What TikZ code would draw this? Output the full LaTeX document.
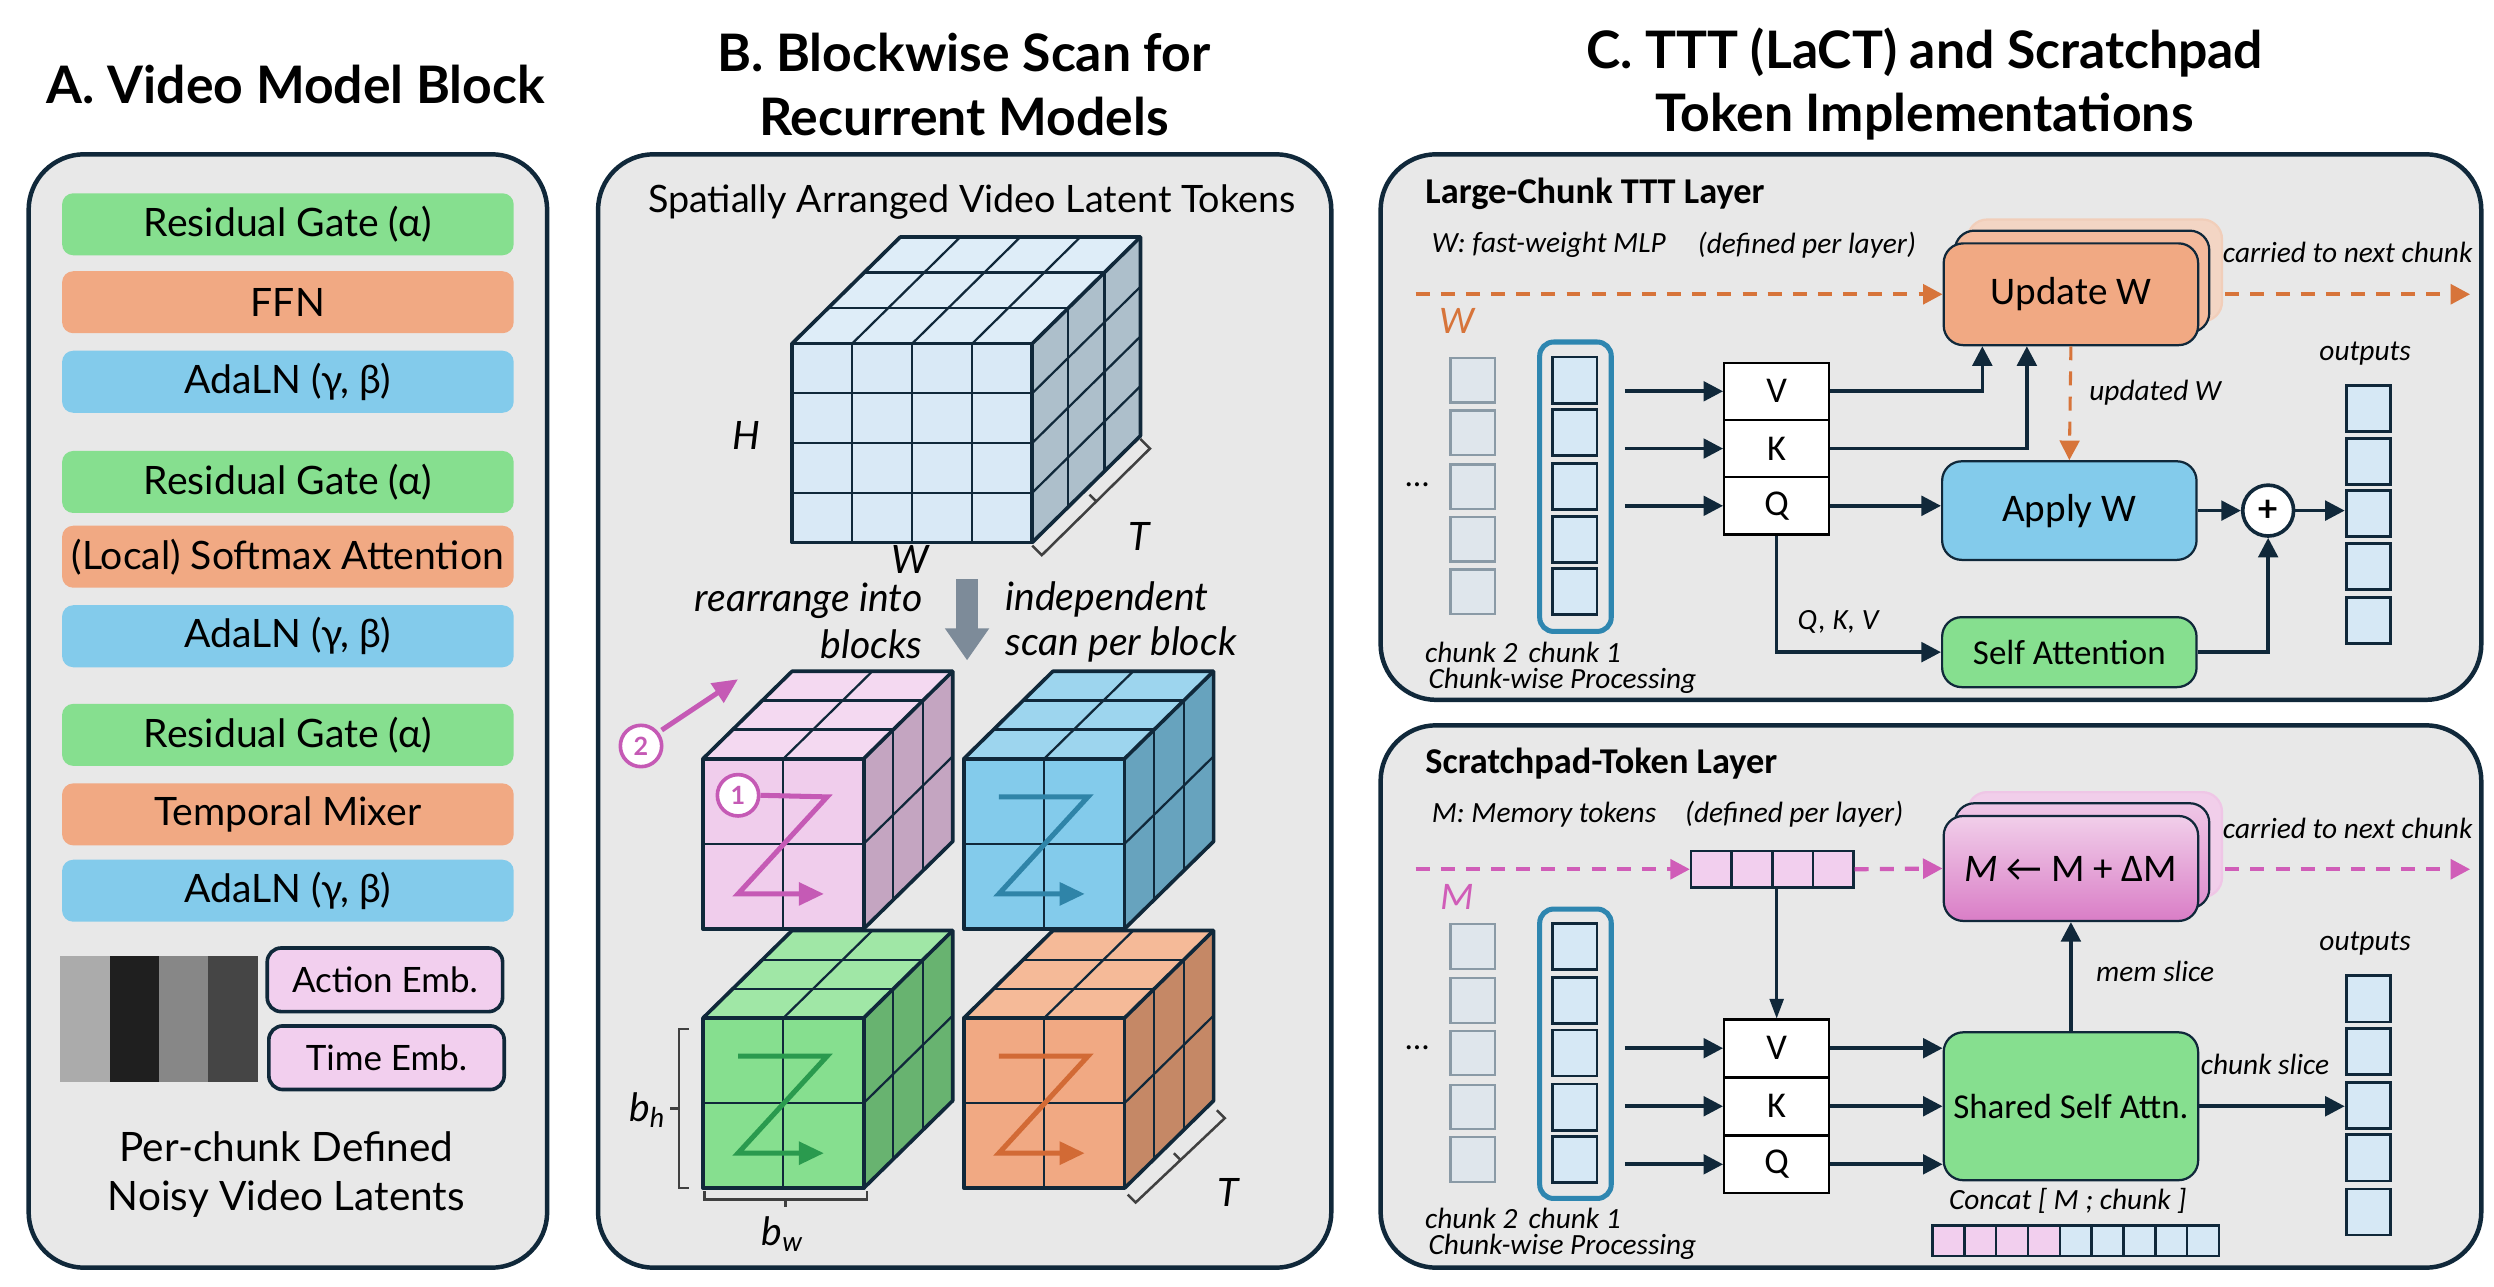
\documentclass[tikz,border=0pt]{standalone}
\usepackage{fontspec}
\setmainfont{Lato}
\newfontfamily\narrowf{Carlito}
\usetikzlibrary{arrows.meta,calc}

\definecolor{navy}{HTML}{10283A}
\definecolor{panelbg}{HTML}{E8E8E8}
\definecolor{gGreen}{HTML}{86DF8F}
\definecolor{gOrange}{HTML}{F1A983}
\definecolor{gBlue}{HTML}{83CBEB}
\definecolor{embpink}{HTML}{F2CFEE}
\definecolor{bigF}{HTML}{D9E9F6}
\definecolor{bigT}{HTML}{DEEDF8}
\definecolor{bigS}{HTML}{ADBFCB}
\definecolor{pinkF}{HTML}{F0CDEC}
\definecolor{pinkT}{HTML}{F4D9F1}
\definecolor{pinkS}{HTML}{C4A5C1}
\definecolor{blueF}{HTML}{83CBEB}
\definecolor{blueT}{HTML}{9DD5EE}
\definecolor{blueS}{HTML}{67A3BE}
\definecolor{greenF}{HTML}{86DF8F}
\definecolor{greenT}{HTML}{A0E7A6}
\definecolor{greenS}{HTML}{68B370}
\definecolor{orangeF}{HTML}{F1A983}
\definecolor{orangeT}{HTML}{F5BA98}
\definecolor{orangeS}{HTML}{C58866}
\definecolor{zpink}{HTML}{C55AB5}
\definecolor{zblue}{HTML}{2F84A8}
\definecolor{zgreen}{HTML}{2A9A4E}
\definecolor{zorange}{HTML}{D26A35}
\definecolor{arrowgray}{HTML}{7D8B99}
\definecolor{wOrange}{HTML}{D7743A}
\definecolor{mPink}{HTML}{D05DB8}
\definecolor{tealb}{HTML}{2E86B0}
\definecolor{cellold}{HTML}{DFE6EC}
\definecolor{celloldb}{HTML}{8A9AA6}
\definecolor{cellnew}{HTML}{D6E8F5}

\tikzset{
    panel/.style={draw=navy, line width=1.6pt, fill=panelbg, rounded corners=0.7cm},
    ttl/.style={font=\fontsize{18.5}{22}\selectfont\bfseries},
    bar/.style={rounded corners=4pt, minimum width=5.68cm, minimum height=0.78cm, font=\fontsize{14}{16}\selectfont},
    emb/.style={draw=navy, line width=1.3pt, fill=embpink, rounded corners=5pt, minimum width=2.96cm, minimum height=0.8cm, font=\fontsize{12.5}{14}\selectfont},
    cubeline/.style={draw=navy, line width=0.8pt},
    cubeedge/.style={draw=navy, line width=1.3pt, line join=round},
    zline/.style={line width=1.8pt, -{Triangle[length=9pt,width=8pt]}},
    numc/.style={circle, draw=zpink, line width=1.3pt, fill=white, minimum size=0.52cm, inner sep=0pt, text=zpink, font=\fontsize{9}{10}\selectfont\bfseries},
    brk/.style={draw=black!75, line width=0.9pt},
    lbl/.style={font=\fontsize{14}{15}\selectfont\itshape},
    sub/.style={font=\narrowf\fontsize{13}{15}\selectfont\bfseries},
    note/.style={font=\narrowf\fontsize{10.5}{12}\selectfont\itshape},
    qkv/.style={draw=black, line width=0.8pt, fill=white, minimum width=1.32cm, minimum height=0.72cm, font=\narrowf\fontsize{13}{15}\selectfont},
    op/.style={draw=navy, line width=0.8pt, rounded corners=7pt, minimum width=3.2cm, font=\narrowf\fontsize{14}{16}\selectfont},
    oldcell/.style={draw=celloldb, line width=0.8pt, fill=cellold, minimum width=0.56cm, minimum height=0.56cm},
    newcell/.style={draw=navy, line width=1pt, fill=cellnew, minimum width=0.56cm, minimum height=0.58cm},
    arr/.style={draw=navy, line width=1.3pt, -{Triangle[length=7pt,width=7pt]}},
    thinarr/.style={draw=navy, line width=0.9pt, -{Triangle[length=7pt,width=5pt]}},
    odash/.style={draw=wOrange, line width=1.5pt, dash pattern=on 5pt off 4pt, -{Triangle[length=7pt,width=7pt]}},
    pdash/.style={draw=mPink, line width=1.5pt, dash pattern=on 5pt off 4pt, -{Triangle[length=7pt,width=7pt]}},
}

% cube: x, y, width, height, cells, depth dx, depth dy, colour prefix
\newcommand{\tokcube}[8]{%
    \fill[#8F] (#1,#2) rectangle ++(#3,#4);
    \fill[#8T] (#1,#2) -- ++(#3,0) -- ++(#6,-#7) -- ++(-#3,0) -- cycle;
    \fill[#8S] (#1+#3,#2) -- ++(#6,-#7) -- ++(0,#4) -- ++(-#6,#7) -- cycle;
    \pgfmathtruncatemacro\cubem{#5-1}
    \foreach \i in {1,...,\cubem} {
        \draw[cubeline] (#1+\i*#3/#5,#2) -- ++(0,#4);
        \draw[cubeline] (#1,#2+\i*#4/#5) -- ++(#3,0);
        \draw[cubeline] (#1+\i*#3/#5,#2) -- ++(#6,-#7);
        \draw[cubeline] (#1+#3,#2+\i*#4/#5) -- ++(#6,-#7);
    }
    \foreach \j in {1,2}
        \draw[cubeline] (#1+\j*#6/3,#2-\j*#7/3) -- ++(#3,0) -- ++(0,#4);
    \draw[cubeedge] (#1,#2) rectangle ++(#3,#4);
    \draw[cubeedge] (#1,#2) -- ++(#6,-#7) -- ++(#3,0) -- ++(0,#4) -- ++(-#6,#7);
    \draw[cubeedge] (#1+#3,#2) -- ++(#6,-#7);
}
\newcommand{\zscan}[3]{%
    \draw[zline,#3] (#1+22,#2+24) -- (#1+78,#2+24) -- (#1+22,#2+85) -- (#1+76,#2+85);
}

\begin{document}
\begin{tikzpicture}[x=0.02cm,y=-0.02cm]
    \useasboundingbox (0,0) rectangle (1568,809);
    \fill[white] (0,0) rectangle (1568,809);

    % ---------- A
    \node[ttl] (ttlA) at (186,53) {A. Video Model Block};
    \draw[panel] (18,97) rectangle (344,797);
    \node[bar, fill=gGreen] (rg1) at (181,141) {Residual Gate (α)};
    \node[bar, fill=gOrange] (ffn) at (181,190) {FFN};
    \node[bar, fill=gBlue] (ada1) at (181,240) {AdaLN (γ, β)};
    \node[bar, fill=gGreen] (rg2) at (181,303) {Residual Gate (α)};
    \node[bar, fill=gOrange] (attn) at (181,350) {(Local) Softmax Attention};
    \node[bar, fill=gBlue] (ada2) at (181,400) {AdaLN (γ, β)};
    \node[bar, fill=gGreen] (rg3) at (181,462) {Residual Gate (α)};
    \node[bar, fill=gOrange] (tmix) at (181,512) {Temporal Mixer};
    \node[bar, fill=gBlue] (ada3) at (181,560) {AdaLN (γ, β)};
    \foreach \c [count=\i from 0] in {black!33,black!88,black!47,black!73}
        \fill[\c] (38+\i*31,601) rectangle ++(31,79);
    \node[emb] (aemb) at (242,616) {Action Emb.};
    \node[emb] (temb) at (243,665) {Time Emb.};
    \node[font=\fontsize{14.5}{16}\selectfont] (lat1) at (180,721) {Per-chunk Defined};
    \node[font=\fontsize{14.5}{16}\selectfont] (lat2) at (180,754) {Noisy Video Latents};

    % ---------- B
    \node[ttl] (ttlB1) at (606,33) {B. Blockwise Scan for};
    \node[ttl] (ttlB2) at (606,73) {Recurrent Models};
    \draw[panel] (376,97) rectangle (837,797);
    \node[font=\fontsize{13.5}{15}\selectfont] (spat) at (611,127) {Spatially Arranged Video Latent Tokens};
    \tokcube{498}{216}{151}{125}{4}{68}{67}{big}
    \node[lbl] (hlab) at (469,274) {H};
    \node[lbl, inner sep=1pt] (wlab) at (572,352) {W};
    \draw[brk] (649,343) -- (655,349) -- (723,282) -- (717,276);
    \draw[brk] (689,315) -- (685,311);
    \node[lbl] (tlab1) at (716,337) {T};

    \fill[arrowgray] (601,364) rectangle (615,396);
    \fill[arrowgray] (594,395) -- (622,395) -- (608,415) -- cycle;
    \node[lbl, anchor=east, inner sep=1pt] (rea1) at (582,378) {rearrange into};
    \node[lbl, anchor=east, inner sep=1pt] (rea2) at (582,405) {blocks};
    \node[lbl, anchor=west, inner sep=1pt] (ind1) at (630,377) {independent};
    \node[lbl, anchor=west, inner sep=1pt] (ind2) at (630,405) {scan per block};

    \tokcube{442}{477}{101}{107}{2}{56}{55}{pink}
    \tokcube{606}{477}{101}{107}{2}{56}{55}{blue}
    \tokcube{442}{640}{101}{107}{2}{56}{55}{green}
    \tokcube{606}{640}{101}{107}{2}{56}{55}{orange}
    \node[numc] (n1) at (464,500) {1};
    \draw[zline,zpink] (n1.east) -- (520,501) -- (464,562) -- (518,562);
    \zscan{606}{477}{zblue}
    \zscan{442}{640}{zgreen}
    \zscan{606}{640}{zorange}
    \node[numc] (n2) at (403,469) {2};
    \coordinate (n2tip) at (464,427);
    \draw[zpink, line width=1.8pt, -{Triangle[length=9pt,width=8pt]}] (n2.north east) ++(3,0) -- (n2tip);

    \draw[brk] (433,647) -- (427,647) -- (427,747) -- (433,747);
    \draw[brk] (427,697) -- (421,697);
    \node[lbl] (bh) at (407,698) {b\textsubscript{h}};
    \draw[brk] (443,749) -- (443,754) -- (545,754) -- (545,749);
    \draw[brk] (494,754) -- (494,759);
    \node[lbl] (bw) at (492,776) {b\textsubscript{w}};
    \draw[brk] (709,751) -- (714,756) -- (770,703) -- (765,698);
    \draw[brk] (742,729) -- (738,725);
    \node[lbl] (tlab2) at (772,750) {T};

    % ---------- C
    \node[ttl] (ttlC1) at (1210,33) {C. TTT (LaCT) and Scratchpad};
    \node[ttl] (ttlC2) at (1210,73) {Token Implementations};
    \draw[panel] (868,97) rectangle (1560,440);
    \draw[panel] (868,456) rectangle (1560,797);

    % large-chunk TTT
    \node[sub, anchor=west] (ttt) at (890,122) {Large-Chunk TTT Layer};
    \node[note, anchor=west] (wdef) at (894,154) {W: fast-weight MLP};
    \node[note] (wper) at (1136,154) {(defined per layer)};
    \node[note] (carry1) at (1476,159) {carried to next chunk};
    \node[op, fill=wOrange!30, draw=wOrange!35, minimum height=1.28cm] (updB2) at (1317,170) {};
    \node[op, fill=gOrange!80!white, minimum height=1.28cm] (updB1) at (1309,177) {};
    \node[op, fill=gOrange, minimum height=1.28cm] (UpdW) at (1302,185) {Update W};
    \coordinate (wIn) at (890,185);
    \coordinate (wGo) at (1399,185);
    \coordinate (wOut) at (1553,185);
    \draw[odash] (wIn) -- (UpdW.west);
    \draw[odash] (wGo) -- (wOut);
    \node[font=\narrowf\fontsize{14}{16}\selectfont\itshape, text=wOrange] (wsym) at (916,202) {W};
    \node[font=\narrowf\fontsize{12}{14}\selectfont] (dots1) at (891,305) {...};
    \foreach \r [count=\k] in {239,272,306,339,372} {
        \node[oldcell] (oa\k) at (926,\r) {};
        \node[newcell] (na\k) at (990,\r) {};
    }
    \node[draw=tealb, line width=1.8pt, rounded corners=5pt, minimum width=0.9cm, minimum height=3.64cm] (ch1a) at (990.5,306) {};
    \node[note] (c2a) at (925,410) {chunk 2};
    \node[note] (c1a) at (990,410) {chunk 1};
    \node[note, anchor=west] (cwa) at (892,428) {Chunk-wise Processing};
    \node[qkv] (V1) at (1117,246) {V};
    \node[qkv] (K1) at (1117,282) {K};
    \node[qkv] (Q1) at (1117,318) {Q};
    \foreach \n in {V1,K1,Q1}
        \draw[arr] ($(ch1a.east |- \n.west)+(7,0)$) -- (\n.west);
    \draw[arr] (V1.east) -| ([xshift=0.5cm]UpdW.south west);
    \draw[arr] (K1.east) -| ([xshift=1.06cm]UpdW.south west);
    \node[op, fill=gBlue, minimum height=1.24cm] (ApplyW) at (1301,321) {Apply W};
    \draw[odash, line width=1.1pt] (UpdW.south) -- (ApplyW.north);
    \node[note] (updw) at (1355,247) {updated W};
    \draw[arr] (Q1.east) -- (ApplyW.west |- Q1.east);
    \node[circle, draw=navy, line width=1.3pt, fill=white, minimum size=0.64cm, inner sep=0pt, font=\fontsize{13}{13}\selectfont\bfseries] (plus) at (1426,321) {+};
    \node[op, fill=gGreen, minimum height=0.88cm, font=\narrowf\fontsize{12.5}{14}\selectfont] (SelfAtt) at (1301,410) {Self Attention};
    \draw[arr] (Q1.south) |- (SelfAtt.west);
    \node[note, anchor=west] (qkvl) at (1124,391) {Q, K, V};
    \draw[arr] (ApplyW.east) -- (plus.west);
    \draw[arr] (SelfAtt.east) -| (plus.south);
    \node[note] (outa) at (1487,222) {outputs};
    \foreach \r [count=\k] in {257,290,323,356,390}
        \node[newcell] (ya\k) at (1489,\r) {};
    \draw[arr] (plus.east) -- (ya3.west |- plus.east);

    % scratchpad tokens
    \node[sub, anchor=west] (scr) at (890,480) {Scratchpad-Token Layer};
    \node[note, anchor=west] (mdef) at (894,512) {M: Memory tokens};
    \node[note] (mper) at (1128,512) {(defined per layer)};
    \node[note] (carry2) at (1476,521) {carried to next chunk};
    \node[op, fill=mPink!30, draw=mPink!35, minimum height=1.32cm] (mB2) at (1317,531) {};
    \node[op, top color=mPink!35, bottom color=mPink!70, minimum height=1.32cm] (mB1) at (1309,538) {};
    \node[op, top color=mPink!30, bottom color=mPink!80, minimum height=1.32cm] (MBox) at (1302,546) {\textit{M} ← M + ΔM};
    \foreach \x [count=\k] in {1076,1101.5,1127,1152.5}
        \node[draw=navy, line width=0.9pt, fill=embpink, minimum width=0.51cm, minimum height=0.46cm] (m\k) at (\x,546.5) {};
    \coordinate (mIn) at (890,546.5);
    \coordinate (mGo) at (1399,546.5);
    \coordinate (mOut) at (1553,546.5);
    \draw[pdash] (mIn) -- (m1.west);
    \draw[pdash] (m4.east) -- (MBox.west);
    \draw[pdash] (mGo) -- (mOut);
    \node[font=\narrowf\fontsize{14}{16}\selectfont\itshape, text=mPink] (msym) at (916,564) {M};
    \node[font=\narrowf\fontsize{12}{14}\selectfont] (dots2) at (891,659) {...};
    \foreach \r [count=\k] in {595,629,662,696,729} {
        \node[oldcell] (ob\k) at (926,\r) {};
        \node[newcell] (nb\k) at (990,\r) {};
    }
    \node[draw=tealb, line width=1.8pt, rounded corners=5pt, minimum width=0.9cm, minimum height=3.64cm] (ch1b) at (990.5,662.5) {};
    \node[note] (c2b) at (925,766) {chunk 2};
    \node[note] (c1b) at (990,766) {chunk 1};
    \node[note, anchor=west] (cwb) at (892,784) {Chunk-wise Processing};
    \node[qkv] (V2) at (1117,659) {V};
    \node[qkv] (K2) at (1117,695.5) {K};
    \node[qkv] (Q2) at (1117,732) {Q};
    \node[op, fill=gGreen, minimum height=1.86cm, font=\narrowf\fontsize{12.5}{14}\selectfont] (SSA) at (1302,695.5) {Shared Self Attn.};
    \foreach \n in {V2,K2,Q2} {
        \draw[arr] ($(ch1b.east |- \n.west)+(7,0)$) -- (\n.west);
        \draw[arr] (\n.east) -- (SSA.west |- \n.east);
    }
    \draw[thinarr] (V2.north |- m2.south) -- (V2.north);
    \draw[arr] (SSA.north) -- (MBox.south);
    \node[note] (mems) at (1355,611) {mem slice};
    \node[note] (outb) at (1487,593) {outputs};
    \foreach \r [count=\k] in {628,661,695,728,762}
        \node[newcell] (yb\k) at (1489,\r) {};
    \draw[arr] (SSA.east) -- (yb3.west |- SSA.east);
    \node[note] (chs) at (1424,669) {chunk slice};
    \node[note] (cat) at (1300,755) {Concat [ M ; chunk ]};
    \foreach \k in {0,...,8} {
        \pgfmathsetmacro\catcol{\k<4 ? "embpink" : "cellnew"}
        \node[draw=navy, line width=0.9pt, fill=\catcol, minimum width=0.4cm, minimum height=0.38cm] (cc\k) at (1225+\k*20,780) {};
    }
\end{tikzpicture}
\end{document}
